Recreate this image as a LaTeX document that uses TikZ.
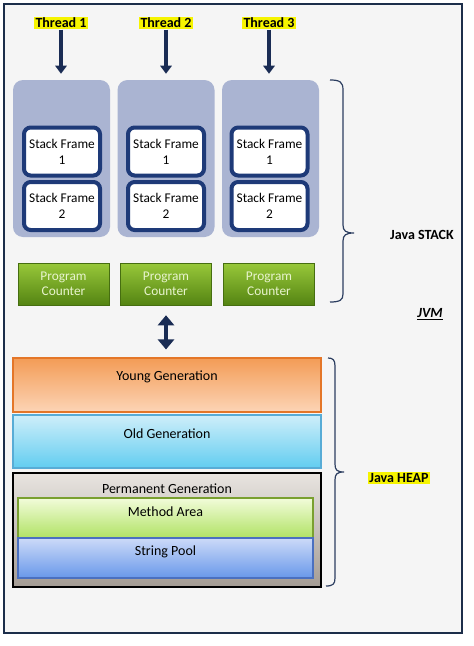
\documentclass[tikz,border=0pt]{standalone}
\usepackage{fontspec}
\setmainfont{Carlito}
\usetikzlibrary{arrows.meta}
\definecolor{jvmnavy}{RGB}{28, 46, 74}
\definecolor{bggray}{RGB}{245, 245, 245}
\definecolor{marker}{RGB}{246, 244, 0}
\definecolor{arrowblue}{RGB}{26, 44, 84}
\definecolor{panelblue}{RGB}{170, 180, 210}
\definecolor{framenavy}{RGB}{30, 58, 120}
\definecolor{leaftop}{RGB}{152, 200, 58}
\definecolor{leafbot}{RGB}{84, 132, 18}
\definecolor{leafedge}{RGB}{70, 110, 16}
\definecolor{leaftext}{RGB}{232, 244, 206}
\definecolor{carrot}{RGB}{243, 156, 86}
\definecolor{peach}{RGB}{252, 212, 182}
\definecolor{carrotedge}{RGB}{228, 118, 40}
\definecolor{skytop}{RGB}{206, 238, 250}
\definecolor{skybot}{RGB}{98, 205, 240}
\definecolor{skyedge}{RGB}{88, 172, 214}
\definecolor{stonetop}{RGB}{232, 228, 224}
\definecolor{stonebot}{RGB}{164, 156, 148}
\definecolor{limetop}{RGB}{242, 252, 218}
\definecolor{limebot}{RGB}{176, 226, 100}
\definecolor{limeedge}{RGB}{122, 160, 48}
\definecolor{pooltop}{RGB}{204, 218, 248}
\definecolor{poolbot}{RGB}{104, 152, 234}
\definecolor{pooledge}{RGB}{74, 112, 192}
\definecolor{bracegray}{RGB}{44, 62, 96}

\tikzset{
  thread/.style     = {fill=marker, inner sep=1pt, font=\bfseries\fontsize{10.5}{12}\selectfont},
  stackbox/.style   = {fill=panelblue, rounded corners=7.5pt, minimum width=72.75pt, minimum height=117.75pt},
  framebox/.style   = {draw=framenavy, line width=3pt, fill=white, rounded corners=5pt,
                       minimum width=57pt, minimum height=36pt, align=center, inner sep=1pt,
                       font=\fontsize{10}{12}\selectfont},
  counter/.style    = {draw=leafedge, top color=leaftop, bottom color=leafbot, text=leaftext,
                       minimum width=68.25pt, minimum height=31.5pt, align=center,
                       font=\fontsize{10}{11.25}\selectfont},
  heapbox/.style    = {minimum width=231pt, line width=0.8pt},
  innerbox/.style   = {minimum width=221.25pt, minimum height=30pt, line width=0.8pt},
  heaplbl/.style    = {inner sep=0pt, font=\fontsize{10.5}{12}\selectfont},
  threadarrow/.style= {arrowblue, line width=2.4pt, -{Triangle[length=6pt,width=8.5pt]}, shorten >=4.5pt},
  bracepen/.style   = {bracegray, line width=0.9pt}
}

\begin{document}
\begin{tikzpicture}[x=0.75pt,y=-0.75pt]
            \useasboundingbox (0,0) rectangle (474,646);
            \fill[white]                                                  (0,0) rectangle (474,646);
            \filldraw[draw=jvmnavy, fill=bggray, line width=1.8pt]       (4,4) rectangle (462,633);

            % threads
            \node[thread] (thread1) at ( 61, 23) {Thread 1};
            \node[thread] (thread2) at (166, 23) {Thread 2};
            \node[thread] (thread3) at (269, 23) {Thread 3};

            % stacks
            \node[stackbox] (stack1) at ( 61.5,158.5) {};
            \node[stackbox] (stack2) at (166.0,158.5) {};
            \node[stackbox] (stack3) at (270.5,158.5) {};
            \node[framebox] (frame11) at ( 62.0,151.5) {Stack Frame\\1};
            \node[framebox] (frame12) at ( 62.0,206.0) {Stack Frame\\2};
            \node[framebox] (frame21) at (166.0,151.5) {Stack Frame\\1};
            \node[framebox] (frame22) at (166.0,206.0) {Stack Frame\\2};
            \node[framebox] (frame31) at (269.5,151.5) {Stack Frame\\1};
            \node[framebox] (frame32) at (269.5,206.0) {Stack Frame\\2};

            \draw[threadarrow] (thread1.south) -- (thread1.south |- stack1.north);
            \draw[threadarrow] (thread2.south) -- (thread2.south |- stack2.north);
            \draw[threadarrow] (thread3.south) -- (thread3.south |- stack3.north);

            % program counters
            \node[counter] (pc1) at ( 63.5,284) {Program\\Counter};
            \node[counter] (pc2) at (166.0,284) {Program\\Counter};
            \node[counter] (pc3) at (269.0,284) {Program\\Counter};

            % heap
            \node[heapbox, draw=carrotedge, top color=carrot,   bottom color=peach,
                  minimum height=40.5pt] (young) at (167,385.0) {};
            \node[heapbox, draw=skyedge,    top color=skytop,   bottom color=skybot,
                  minimum height=39.75pt] (old)  at (167,441.5) {};
            \node[heapbox, draw=black,      top color=stonetop, bottom color=stonebot,
                  minimum height=85.5pt] (perm)  at (167,530.0) {};
            \node[innerbox, draw=limeedge,  top color=limetop,  bottom color=limebot] (method) at (165.5,518) {};
            \node[innerbox, draw=pooledge,  top color=pooltop,  bottom color=poolbot] (pool)   at (165.5,558) {};
            \node[heaplbl] (younglbl)  at (167,377) {Young Generation};
            \node[heaplbl] (oldlbl)    at (167,434) {Old Generation};
            \node[heaplbl] (permlbl)   at (167,489) {Permanent Generation};
            \node[heaplbl] (methodlbl) at (165.5,512) {Method Area};
            \node[heaplbl] (poollbl)   at (165.5,552) {String Pool};

            \draw[arrowblue, line width=3.4pt, {Triangle[length=7.5pt,width=12pt]}-{Triangle[length=7.5pt,width=12pt]},
                  shorten <=7.5pt, shorten >=6pt] (pc2.south) -- (pc2.south |- young.north);

            % braces
            \draw[bracepen] (330,80) .. controls (340,80) and (343,82) .. (343,90) -- (343,225)
                  .. controls (343,231) and (346,233) .. (354,233) .. controls (346,233) and (343,235) .. (343,241)
                  -- (343,294) .. controls (343,300) and (340,302) .. (330,302);
            \draw[bracepen] (328,358) .. controls (333,358) and (335,360) .. (335,366) -- (335,464)
                  .. controls (335,470) and (337,472) .. (344,472) .. controls (337,472) and (335,474) .. (335,480)
                  -- (335,578) .. controls (335,584) and (333,586) .. (326,586);

            \node[font=\bfseries\fontsize{10.5}{12}\selectfont] (stacklbl) at (422,235) {Java STACK};
            \node[font=\bfseries\itshape\fontsize{10.5}{12}\selectfont] (jvmlbl) at (430,314) {\underline{JVM}};
            \node[thread] (heaplabel) at (399,478) {Java HEAP};
            \end{tikzpicture}
\end{document}
